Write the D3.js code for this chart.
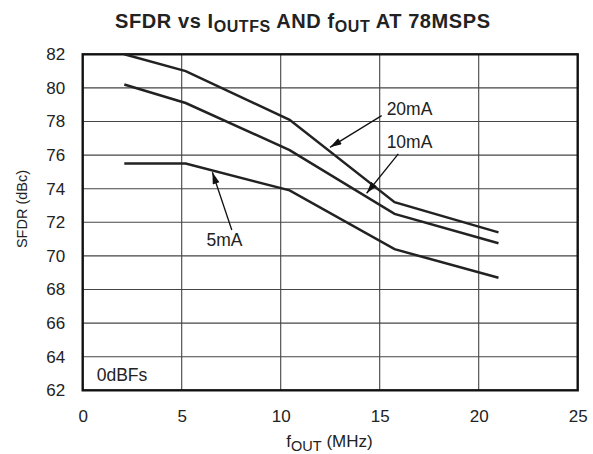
<!DOCTYPE html>
<html><head><meta charset="utf-8">
<script src="https://cdn.jsdelivr.net/npm/d3@7"></script>
<style>body{margin:0;background:#fff}svg{display:block}text{font-family:"Liberation Sans",Arial,Helvetica,sans-serif;fill:#222}</style>
</head><body>
<script>
const freq = [2.1, 5.2, 10.45, 15.75, 21.0];
const series = [
  {name:"20mA", values:[82.0, 81.0, 78.1, 73.2, 71.4]},
  {name:"10mA", values:[80.2, 79.1, 76.3, 72.5, 70.75]},
  {name:"5mA",  values:[75.5, 75.5, 73.9, 70.4, 68.7]}
];
const xTicks = [0,5,10,15,20,25];
const yTicks = [62,64,66,68,70,72,74,76,78,80,82];
const notes = [
  {label:"20mA", tx:15.35, ty:78.4, x1:15.1, y1:78.35, x2:12.49, y2:76.46},
  {label:"10mA", tx:15.35, ty:76.4, x1:15.94, y1:76.07, x2:14.34, y2:73.73},
  {label:"5mA",  tx:6.25,  ty:70.6, x1:7.53, y1:71.54, x2:6.55, y2:74.98}
];

const W=593,H=454;
const m={l:82.7,r:W-577.7,t:54.3,b:H-390.3};
const svg=d3.select("body").append("svg").attr("width",W).attr("height",H);
const x=d3.scaleLinear().domain([0,25]).range([m.l,W-m.r]);
const y=d3.scaleLinear().domain([62,82]).range([H-m.b,m.t]);

// grid
svg.append("g").selectAll("line").data(xTicks.slice(1,-1)).join("line")
  .attr("x1",d=>x(d)).attr("x2",d=>x(d)).attr("y1",y(62)).attr("y2",y(82))
  .attr("stroke","#444").attr("stroke-width",1.1);
svg.append("g").selectAll("line").data(yTicks.slice(1,-1)).join("line")
  .attr("y1",d=>y(d)).attr("y2",d=>y(d)).attr("x1",x(0)).attr("x2",x(25))
  .attr("stroke","#444").attr("stroke-width",1.1);

// axes labels via d3 axes
const ax=svg.append("g").attr("transform",`translate(0,${y(62)})`)
  .call(d3.axisBottom(x).tickValues(xTicks).tickSize(0).tickPadding(19.3));
const ay=svg.append("g").attr("transform",`translate(${x(0)},0)`)
  .call(d3.axisLeft(y).tickValues(yTicks).tickSize(0).tickPadding(17.5));
[ax,ay].forEach(a=>{a.select(".domain").remove();a.selectAll("text").style("font-size","17px").attr("fill","#222");});

// border
svg.append("rect").attr("x",x(0)).attr("y",y(82)).attr("width",x(25)-x(0)).attr("height",y(62)-y(82))
  .attr("fill","none").attr("stroke","#111").attr("stroke-width",2.4);

// lines
const line=d3.line().x((d,i)=>x(freq[i])).y(d=>y(d));
svg.append("g").selectAll("path").data(series).join("path")
  .attr("d",d=>line(d.values)).attr("fill","none").attr("stroke","#222").attr("stroke-width",2.5);

// arrows
svg.append("defs").append("marker").attr("id","ah").attr("viewBox","0 0 10 6")
  .attr("refX",10).attr("refY",3).attr("markerWidth",13).attr("markerHeight",7)
  .attr("markerUnits","userSpaceOnUse").attr("orient","auto")
  .append("path").attr("d","M0,0L10,3L0,6Z").attr("fill","#111");
const ng=svg.append("g");
ng.selectAll("line").data(notes).join("line")
  .attr("x1",d=>x(d.x1)).attr("y1",d=>y(d.y1)).attr("x2",d=>x(d.x2)).attr("y2",d=>y(d.y2))
  .attr("stroke","#111").attr("stroke-width",1.3).attr("marker-end","url(#ah)");
ng.selectAll("text").data(notes).join("text")
  .attr("x",d=>x(d.tx)).attr("y",d=>y(d.ty)).style("font-size","17.5px").text(d=>d.label);

svg.append("text").attr("x",x(0)+14).attr("y",y(62)-9).style("font-size","17.5px").text("0dBFs");

// title
const t=svg.append("text").attr("x",115).attr("y",27.5)
  .style("font-size","20px").style("font-weight","bold");
t.append("tspan").text("SFDR vs I");
t.append("tspan").attr("dy",4.4).style("font-size","16px").text("OUTFS");
t.append("tspan").attr("dy",-4.4).text(" AND f");
t.append("tspan").attr("dy",4.4).style("font-size","16px").text("OUT");
t.append("tspan").attr("dy",-4.4).text(" AT 78MSPS");
const tw=t.node().getComputedTextLength();
const nch=t.text().length;
if(Math.abs(tw-375)>2) t.style("letter-spacing",((375-tw)/(nch-1))+"px");

// x title
const xt=svg.append("text").attr("x",329.5).attr("y",447).attr("text-anchor","middle").style("font-size","17px");
xt.append("tspan").text("f");
xt.append("tspan").attr("dy",4).style("font-size","14.5px").text("OUT");
xt.append("tspan").attr("dy",-4).text(" (MHz)");

// y title
svg.append("text").attr("transform",`translate(27,209) rotate(-90)`).attr("text-anchor","middle")
  .style("font-size","14.5px").text("SFDR (dBc)");
</script>
</body></html>
